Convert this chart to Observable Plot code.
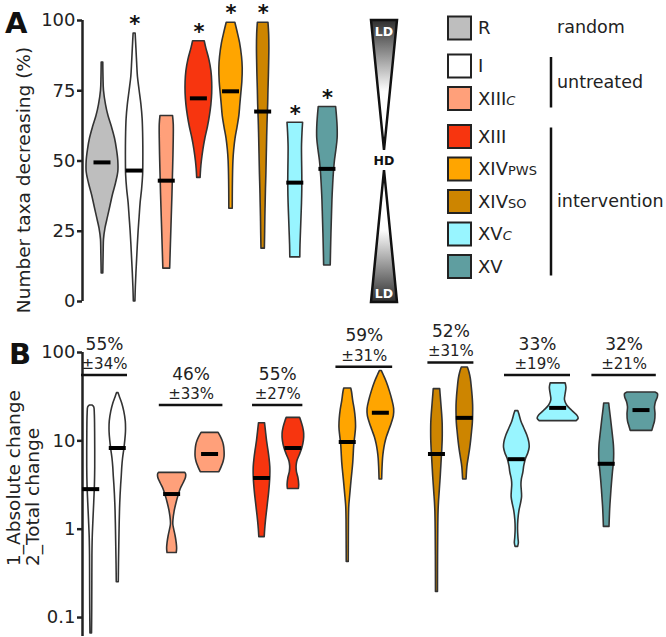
<!DOCTYPE html>
<html><head><meta charset="utf-8">
<script src="https://cdn.jsdelivr.net/npm/d3@7"></script>
<script src="https://cdn.jsdelivr.net/npm/@observablehq/plot@0.6"></script>
<style>
html,body{margin:0;padding:0;background:#fff;}
#root{position:relative;width:666px;height:637px;overflow:hidden;font-family:"DejaVu Sans",sans-serif;}
</style></head><body><div id="root"></div>
<script>
// ---------- categories / legend ----------
const groups = ["R","I","XIIIc","XIII","XIVpws","XIVso","XVc","XV"];
const groupColors = ["#bebebe","#ffffff","#ffa07a","#f7350f","#ffa500","#cd8500","#98f5ff","#5f9ea0"];
const labelMain = ["R","I","XIII","XIII","XIV","XIV","XV","XV"];
const labelSub = ["","","C","","PWS","SO","C",""];
const labelSubItalic = [false,false,true,false,false,false,true,false];
const sections = ["random","untreated","intervention"];
const sectionOf = [0,1,1,2,2,2,2,2];

// ---------- panel A: number taxa decreasing (%) : [value, density half-width] ----------
const ticksA = [0,25,50,75,100];
const vioA_R = [[85,0.8],[80,1],[75,1.5],[70,3.5],[66,6],[62,9.5],[58,12.5],[54,14.5],[50,15.8],[46,15.8],[42,13.5],[38,10.5],[34,8],[30,5.5],[26,3],[22,1.5],[18,1.2],[14,1],[10,0.8]];
const vioA_I = [[95.4,1],[90,1.8],[85,2.5],[80,3.3],[75,5],[70,6.8],[65,8],[60,8.5],[55,8.7],[50,8.7],[45,8.5],[40,7.5],[35,6],[30,5],[25,4],[20,3.2],[15,2.5],[10,1.8],[5,1.2],[0,0.8]];
const vioA_XIIIc = [[66,6.3],[63,7],[58,7],[52,6.7],[45,6.2],[38,5.7],[30,5],[22,4.3],[15,3.7],[11.7,3.4]];
const vioA_XIII = [[92.6,5.8],[90,7.5],[86,10.5],[82,12.5],[78,13.3],[74,13.3],[70,12.5],[66,11],[62,9],[58,6.5],[54,4.5],[50,3],[47,2.2],[44,1.7]];
const vioA_XIVpws = [[99.2,4.3],[96,6.5],[92,9],[87,11],[83,11.7],[78,11.3],[74,10.3],[70,9.3],[66,8.3],[62,6.5],[58,4.5],[54,3.2],[50,2.4],[45,2],[40,1.8],[33,1.7]];
const vioA_XIVso = [[99.2,5.3],[95,6],[90,6.2],[85,6],[80,5.7],[75,5.3],[70,5],[65,4.5],[60,4.1],[55,3.8],[50,3.5],[45,3.2],[40,2.8],[35,2.5],[30,2.2],[25,2],[18.8,1.7]];
const vioA_XVc = [[63.6,7.8],[60,7.2],[55,6.7],[50,6.8],[45,7],[40,7],[35,6.7],[30,6.2],[25,5.7],[20,5.2],[15.7,5]];
const vioA_XV = [[69.2,8.7],[66,9.5],[62,10.2],[58,10.2],[54,9],[50,7.5],[46,6.5],[42,5.8],[36,5],[30,4.5],[24,4],[18,3.6],[12.8,3.3]];
const medianA = [49.5,46.6,43,72.3,74.8,67.6,42.3,47.2];
const starA = [false,true,false,true,true,true,true,true];

// ---------- panel B: log10(change) : [log10 value, density half-width] ----------
const pairsB = ["I","XIIIc","XIII","XIVpws","XIVso","XVc","XV"];
const ticksB = [0.1,1,10,100];
const absB_I = [[1.40,1.5],[1.38,3],[1.3,3.6],[1.1,3.9],[0.9,4],[0.7,4],[0.5,3.7],[0.3,3],[0.1,2.2],[-0.1,1.5],[-0.3,1.2],[-0.6,1.1],[-0.9,1],[-1.18,0.8]];
const totB_I = [[1.54,0.8],[1.5,2],[1.42,4.5],[1.33,6.5],[1.22,8],[1.1,8.2],[1.0,7.5],[0.9,6.5],[0.8,5.3],[0.7,4.5],[0.6,4],[0.5,3.4],[0.4,2.9],[0.3,2.5],[0.2,2.2],[0.0,1.8],[-0.2,1.5],[-0.4,1.2],[-0.6,1]];
const absB_XIIIc = [[0.638,13],[0.62,14],[0.58,13.8],[0.52,11.5],[0.45,8.5],[0.38,6.5],[0.3,4.5],[0.2,2.5],[0.1,1.3],[0.05,1.2],[0.0,2],[-0.08,3.5],[-0.16,4.6],[-0.22,5],[-0.27,4.6]];
const totB_XIIIc = [[1.09,8.5],[1.05,10.5],[1.0,12.5],[0.95,13.8],[0.88,14.5],[0.82,14.5],[0.76,13.5],[0.7,11.5],[0.645,9.3]];
const absB_XIII = [[1.2,3],[1.1,4],[1.0,5],[0.9,6.3],[0.8,7.5],[0.7,8.3],[0.6,8.3],[0.5,7.8],[0.4,7],[0.3,6],[0.2,5],[0.1,4],[0.0,3.2],[-0.09,2.7]];
const totB_XIII = [[1.26,6.7],[1.22,8],[1.15,9.8],[1.08,10.8],[1.0,10.5],[0.92,9],[0.84,6.5],[0.77,4],[0.71,3.2],[0.65,3.5],[0.58,5],[0.5,5.8],[0.455,5.5]];
const absB_XIVpws = [[1.593,3.5],[1.55,4.3],[1.45,5.5],[1.35,7],[1.25,8],[1.15,8.3],[1.05,7.5],[0.95,6.5],[0.85,6],[0.75,5.5],[0.65,4.7],[0.55,3.8],[0.45,3],[0.35,2.2],[0.25,1.5],[0.1,1.2],[-0.1,1.1],[-0.37,1]];
const totB_XIVpws = [[1.79,1],[1.74,3],[1.66,6],[1.56,9],[1.46,11.5],[1.36,13.3],[1.28,13],[1.2,11],[1.12,8.5],[1.04,6],[0.96,4.2],[0.88,3],[0.8,2.2],[0.7,1.7],[0.563,1.3]];
const absB_XIVso = [[1.585,3.2],[1.5,3.8],[1.4,4.5],[1.3,5.2],[1.2,5.7],[1.1,5.8],[1.0,5.7],[0.9,5.3],[0.8,4.8],[0.7,4.3],[0.6,3.8],[0.5,3.2],[0.4,2.6],[0.3,2],[0.2,1.6],[0.0,1.3],[-0.3,1.1],[-0.71,1]];
const totB_XIVso = [[1.83,3],[1.78,4.5],[1.7,6],[1.6,7],[1.5,7.8],[1.4,8.3],[1.3,8.3],[1.2,8],[1.1,7.2],[1.0,6.3],[0.9,5.2],[0.8,3.8],[0.7,2.5],[0.6,1.9],[0.563,1.7]];
const absB_XVc = [[1.336,1.5],[1.3,2.5],[1.22,4.5],[1.14,7.5],[1.06,10.5],[0.98,12.5],[0.92,12.8],[0.86,11.5],[0.8,9.3],[0.72,7.5],[0.64,6.5],[0.56,5],[0.5,4.6],[0.43,5],[0.36,5.2],[0.28,4],[0.2,2.5],[0.1,1.5],[0.0,1.2],[-0.1,1.6],[-0.16,2],[-0.2,1.3]];
const totB_XVc = [[1.65,7.5],[1.6,8.3],[1.53,7.5],[1.46,6.8],[1.4,9],[1.34,14],[1.28,19.5],[1.25,20.5],[1.223,18.5]];
const absB_XV = [[1.423,2.5],[1.35,3.2],[1.25,4.3],[1.15,5.3],[1.05,6.3],[0.95,7.2],[0.85,7.5],[0.75,7.2],[0.65,6.3],[0.55,5.5],[0.45,4.8],[0.35,4.2],[0.25,3.6],[0.15,3.2],[0.026,2.8]];
const totB_XV = [[1.548,14],[1.53,16.5],[1.49,16.3],[1.44,14.5],[1.38,13.5],[1.3,14],[1.22,13.5],[1.16,12],[1.113,10.8]];
const medianAbs = [2.84,2.5,3.8,9.7,7.1,6.2,5.5];
const medianTot = [8.3,7.1,8.3,20.8,18.2,23.6,22.3];
const bracketB = [55.5,25.4,25.4,68.9,77.3,55.5,55.5];
const pctMean = ["55%","46%","55%","59%","52%","33%","32%"];
const pctSD = ["±34%","±33%","±27%","±31%","±31%","±19%","±21%"];

// ---------- build ----------
const root = document.getElementById("root");
const FONT = "DejaVu Sans, sans-serif";
const INK = "#222";

// Panel A
const profilesA = [vioA_R, vioA_I, vioA_XIIIc, vioA_XIII, vioA_XIVpws, vioA_XIVso, vioA_XVc, vioA_XV];
const wA = 350, mlA = 82, mrA = 7;
const domA = [-0.622, 7.5];
const stepA = (wA - mlA - mrA) / (domA[1] - domA[0]);
const rowsA = profilesA.flatMap((prof, i) => prof.map(([v, w]) => ({g: groups[i], i, v, w})));
const medA = medianA.map((m, i) => ({i, m}));
const starsA = groups.map((g, i) => ({i, top: d3.max(profilesA[i], d => d[0]), s: starA[i]})).filter(d => d.s);

const plotA = Plot.plot({
  width: wA, height: 322, marginLeft: mlA, marginRight: mrA, marginTop: 20, marginBottom: 21,
  style: {fontFamily: FONT, fontSize: "18px", color: INK, background: "transparent", overflow: "visible"},
  x: {domain: domA, axis: null},
  y: {domain: [0, 100]},
  color: {domain: groups, range: groupColors},
  marks: [
    Plot.ruleX([domA[0]], {y1: 0, y2: 100, stroke: INK, strokeWidth: 2.5}),
    Plot.axisY({ticks: ticksA, tickSize: 5, tickPadding: 2, fontSize: 18, strokeWidth: 2.5, label: null}),
    Plot.areaX(rowsA, {y: "v", x1: d => d.i - d.w / stepA, x2: d => d.i + d.w / stepA, z: "g", fill: "g",
      stroke: "#333", strokeWidth: 1.6, strokeLinejoin: "round", curve: "catmull-rom"}),
    Plot.ruleY(medA, {y: "m", x1: d => d.i - 8.5 / stepA, x2: d => d.i + 8.5 / stepA, stroke: "#000", strokeWidth: 4}),
    Plot.text(starsA, {x: "i", y: "top", text: () => "*", dy: -9, fontSize: 21, fontWeight: "bold", fill: "#111"})
  ]
});
plotA.style.position = "absolute"; plotA.style.left = "0px"; plotA.style.top = "0px";
root.appendChild(plotA);

// Panel B
const profilesB = [[absB_I, totB_I],[absB_XIIIc, totB_XIIIc],[absB_XIII, totB_XIII],[absB_XIVpws, totB_XIVpws],
                   [absB_XIVso, totB_XIVso],[absB_XVc, totB_XVc],[absB_XV, totB_XV]];
const wB = 666, mlB = 82, mrB = 0;
const firstPairPx = 104, pairStepPx = 86.6;
const stepB = pairStepPx;
const domB = [-(firstPairPx - mlB) / stepB, -(firstPairPx - mlB) / stepB + (wB - mlB - mrB) / stepB];
const maxW = prof => d3.max(prof, d => d[1]);
// spacing of the two violins of a pair grows with their widths (keeps them from touching)
const pairLayout = profilesB.map(([a, t]) => {
  const half = (18 + 0.7 * (maxW(a) + maxW(t))) / 2;
  const extent = half + Math.max(maxW(a), maxW(t));
  return {off: half / stepB, br: Math.max(23, Math.min(33, 0.95 * extent)) / stepB};
});
const rowsB = profilesB.flatMap(([a, t], p) => [[a, -1], [t, 1]].flatMap(([prof, side]) =>
  prof.map(([lv, w]) => ({g: pairsB[p], key: pairsB[p] + side, c: p + side * pairLayout[p].off, v: Math.pow(10, lv), w}))));
const medB = pairsB.flatMap((g, p) => [{c: p - pairLayout[p].off, m: medianAbs[p]}, {c: p + pairLayout[p].off, m: medianTot[p]}]);
const annB = pairsB.map((g, p) => ({p, y: bracketB[p], mean: pctMean[p], sd: pctSD[p], br: pairLayout[p].br}));

const plotB = Plot.plot({
  width: wB, height: 315, marginLeft: mlB, marginRight: mrB, marginTop: 30, marginBottom: 1,
  style: {fontFamily: FONT, fontSize: "18px", color: INK, background: "transparent", overflow: "visible"},
  x: {domain: domB, axis: null},
  y: {type: "log", domain: [0.061, 100]},
  color: {domain: groups, range: groupColors},
  marks: [
    Plot.ruleX([domB[0]], {y1: 0.061, y2: 100, stroke: INK, strokeWidth: 2.5}),
    Plot.axisY({ticks: ticksB, tickFormat: d => String(d), tickSize: 5, tickPadding: 2, fontSize: 18, strokeWidth: 2.5, label: null}),
    Plot.areaX(rowsB, {y: "v", x1: d => d.c - d.w / stepB, x2: d => d.c + d.w / stepB, z: "key", fill: "g",
      stroke: "#333", strokeWidth: 1.6, strokeLinejoin: "round", curve: "catmull-rom"}),
    Plot.ruleY(medB, {y: "m", x1: d => d.c - 8.5 / stepB, x2: d => d.c + 8.5 / stepB, stroke: "#000", strokeWidth: 4}),
    Plot.ruleY(annB, {y: "y", x1: d => d.p - d.br, x2: d => d.p + d.br, stroke: "#111", strokeWidth: 2.5}),
    Plot.text(annB, {x: "p", y: "y", text: "sd", dy: -11, fontSize: 15, fill: INK}),
    Plot.text(annB, {x: "p", y: "y", text: "mean", dy: -31, fontSize: 17, fill: INK})
  ]
});
plotB.style.position = "absolute"; plotB.style.left = "0px"; plotB.style.top = "322px";
root.appendChild(plotB);

// Overlay: panel letters, axis titles, legend
const svg = d3.select(root).append("svg")
  .attr("width", 666).attr("height", 637)
  .style("position", "absolute").style("left", "0px").style("top", "0px")
  .style("font-family", FONT).style("overflow", "visible");

svg.append("text").attr("x", 5).attr("y", 33).attr("font-size", 29).attr("font-weight", "bold").attr("fill", "#111").text("A");
svg.append("text").attr("x", 9).attr("y", 364).attr("font-size", 29).attr("font-weight", "bold").attr("fill", "#111").text("B");

svg.append("text").attr("transform", "translate(30,180) rotate(-90)").attr("text-anchor", "middle")
  .attr("font-size", 18.5).attr("fill", INK).text("Number taxa decreasing (%)");
svg.append("text").attr("transform", "translate(20,566) rotate(-90)").attr("text-anchor", "start")
  .attr("font-size", 18.5).attr("fill", INK).text("1_Absolute change");
svg.append("text").attr("transform", "translate(39,566) rotate(-90)").attr("text-anchor", "start")
  .attr("font-size", 18.5).attr("fill", INK).text("2_Total change");

// density key (LD / HD)
const defs = svg.append("defs");
const gTop = defs.append("linearGradient").attr("id", "gTop").attr("x1", 0).attr("y1", 0).attr("x2", 0).attr("y2", 1);
[[0, "#2e2e2e"], [0.2, "#7a7a7a"], [0.55, "#ffffff"], [1, "#ffffff"]].forEach(([o, c]) => gTop.append("stop").attr("offset", o).attr("stop-color", c));
const gBot = defs.append("linearGradient").attr("id", "gBot").attr("x1", 0).attr("y1", 0).attr("x2", 0).attr("y2", 1);
[[0, "#ffffff"], [0.45, "#ffffff"], [0.8, "#7a7a7a"], [1, "#2e2e2e"]].forEach(([o, c]) => gBot.append("stop").attr("offset", o).attr("stop-color", c));
svg.append("polygon").attr("points", "371,20 397,20 384,150").attr("fill", "url(#gTop)").attr("stroke", "#111").attr("stroke-width", 2.5);
svg.append("polygon").attr("points", "384,170 397,302 371,302").attr("fill", "url(#gBot)").attr("stroke", "#111").attr("stroke-width", 2.5);
svg.append("text").attr("x", 384).attr("y", 36).attr("text-anchor", "middle").attr("font-size", 12.5).attr("font-weight", "bold").attr("fill", "#fff").text("LD");
svg.append("text").attr("x", 384).attr("y", 298).attr("text-anchor", "middle").attr("font-size", 12.5).attr("font-weight", "bold").attr("fill", "#fff").text("LD");
svg.append("text").attr("x", 384).attr("y", 165).attr("text-anchor", "middle").attr("font-size", 12.5).attr("font-weight", "bold").attr("fill", "#111").text("HD");

// legend rows
const rowY = i => 28 + 32.5 * i + 5.5 * sectionOf[i];
groups.forEach((g, i) => {
  const y = rowY(i);
  svg.append("rect").attr("x", 448).attr("y", y - 11.5).attr("width", 23).attr("height", 23)
    .attr("fill", groupColors[i]).attr("stroke", "#222").attr("stroke-width", 2);
  const t = svg.append("text").attr("x", 478).attr("y", y).attr("dy", "0.36em").attr("font-size", 18).attr("fill", INK);
  t.append("tspan").text(labelMain[i]);
  if (labelSub[i]) t.append("tspan").attr("font-size", 13).attr("font-style", labelSubItalic[i] ? "italic" : "normal").text(labelSub[i]);
});
sections.forEach((s, k) => {
  const members = groups.map((g, i) => i).filter(i => sectionOf[i] === k);
  const ys = members.map(rowY);
  const cy = d3.mean(ys);
  svg.append("text").attr("x", 557).attr("y", cy).attr("dy", "0.3em").attr("font-size", 17.5).attr("fill", INK).text(s);
  if (members.length > 1) {
    svg.append("line").attr("x1", 551).attr("x2", 551).attr("y1", d3.min(ys) - 9).attr("y2", d3.max(ys) + 9)
      .attr("stroke", "#111").attr("stroke-width", 2.5);
  }
});
</script>
</body></html>
